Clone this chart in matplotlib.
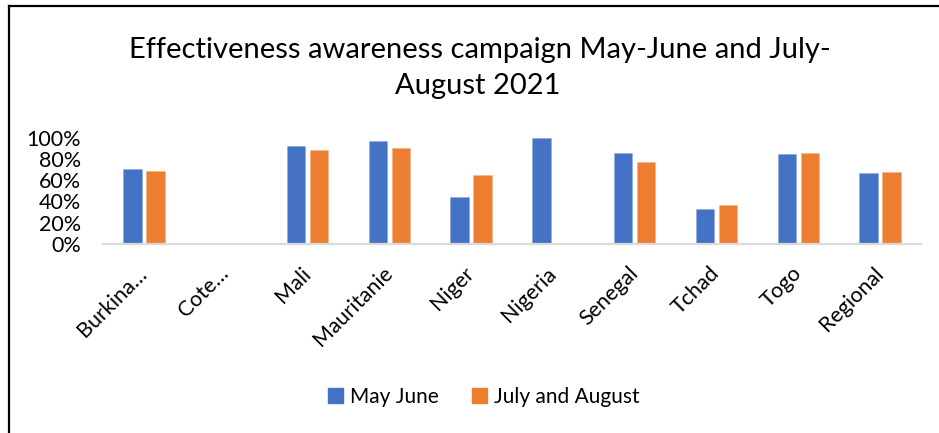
import matplotlib
matplotlib.use("Agg")
import matplotlib.pyplot as plt
import matplotlib.transforms as mtransforms
import numpy as np
from matplotlib.patches import Rectangle
from matplotlib.lines import Line2D

categories = ["Burkina…", "Cote…", "Mali", "Mauritanie", "Niger", "Nigeria",
              "Senegal", "Tchad", "Togo", "Regional"]
may_june = [0.70, np.nan, 0.92, 0.97, 0.44, 1.00, 0.85, 0.33, 0.845, 0.67]
july_august = [0.69, np.nan, 0.885, 0.90, 0.65, np.nan, 0.77, 0.37, 0.855, 0.68]
series_names = ["May June", "July and August"]
yticks = [0, 0.2, 0.4, 0.6, 0.8, 1.0]
ytick_labels = ["0%", "20%", "40%", "60%", "80%", "100%"]

plt.rcParams['font.family'] = ['Lato', 'DejaVu Sans']

W, H = 939, 433
fig = plt.figure(figsize=(W / 100, H / 100), dpi=100)

ax = fig.add_axes([103 / W, (H - 244) / H, (921 - 103) / W, (244 - 137.5) / H])
x = np.arange(len(categories))
blue = "#4472C4"
orange = "#ED7D31"
ax.bar(x - 0.14, may_june, width=0.224, color=blue, edgecolor="#8faadc", linewidth=0.4)
ax.bar(x + 0.14, july_august, width=0.224, color=orange, edgecolor="#f4b183", linewidth=0.4)
ax.set_xlim(-0.5, len(categories) - 0.5)
ax.set_ylim(0, 1.0)
ax.set_yticks(yticks)
ax.set_yticklabels(ytick_labels, fontsize=15.5)
ax.set_xticks(x)
ax.set_xticklabels(categories, rotation=45, ha='right', va='center',
                   rotation_mode='anchor', fontsize=15.5)
offset = mtransforms.ScaledTranslation(5 / 100, 0, fig.dpi_scale_trans)
for lab in ax.get_xticklabels():
    lab.set_transform(lab.get_transform() + offset)
ax.tick_params(axis='both', length=0)
ax.tick_params(axis='y', pad=16)
ax.tick_params(axis='x', pad=19)
for s in ["top", "right", "left"]:
    ax.spines[s].set_visible(False)
ax.spines["bottom"].set_color("#D9D9D9")
ax.spines["bottom"].set_linewidth(1.6)
ax.patch.set_alpha(0)

fig.text(480 / W, (H - 50) / H, "Effectiveness awareness campaign May-June and July-",
         ha='center', va='center', fontsize=21)
fig.text(478 / W, (H - 86) / H, "August 2021", ha='center', va='center', fontsize=21)

handles = [Rectangle((0, 0), 1, 1, color=blue), Rectangle((0, 0), 1, 1, color=orange)]
fig.legend(handles, series_names, loc='center', bbox_to_anchor=(484 / W, (H - 397) / H),
           ncol=2, frameon=False, fontsize=15, handlelength=0.7, handleheight=0.7,
           handletextpad=0.35, columnspacing=1.6)

# chart frame (left and top edges visible)
fig.add_artist(Line2D([8.5 / W, 8.5 / W], [0, (H - 5.5) / H], color="black", lw=1.6,
                      transform=fig.transFigure))
fig.add_artist(Line2D([8.5 / W, 1.0], [(H - 5.5) / H, (H - 5.5) / H], color="black", lw=1.6,
                      transform=fig.transFigure))

fig.savefig("out.png", dpi=100)
